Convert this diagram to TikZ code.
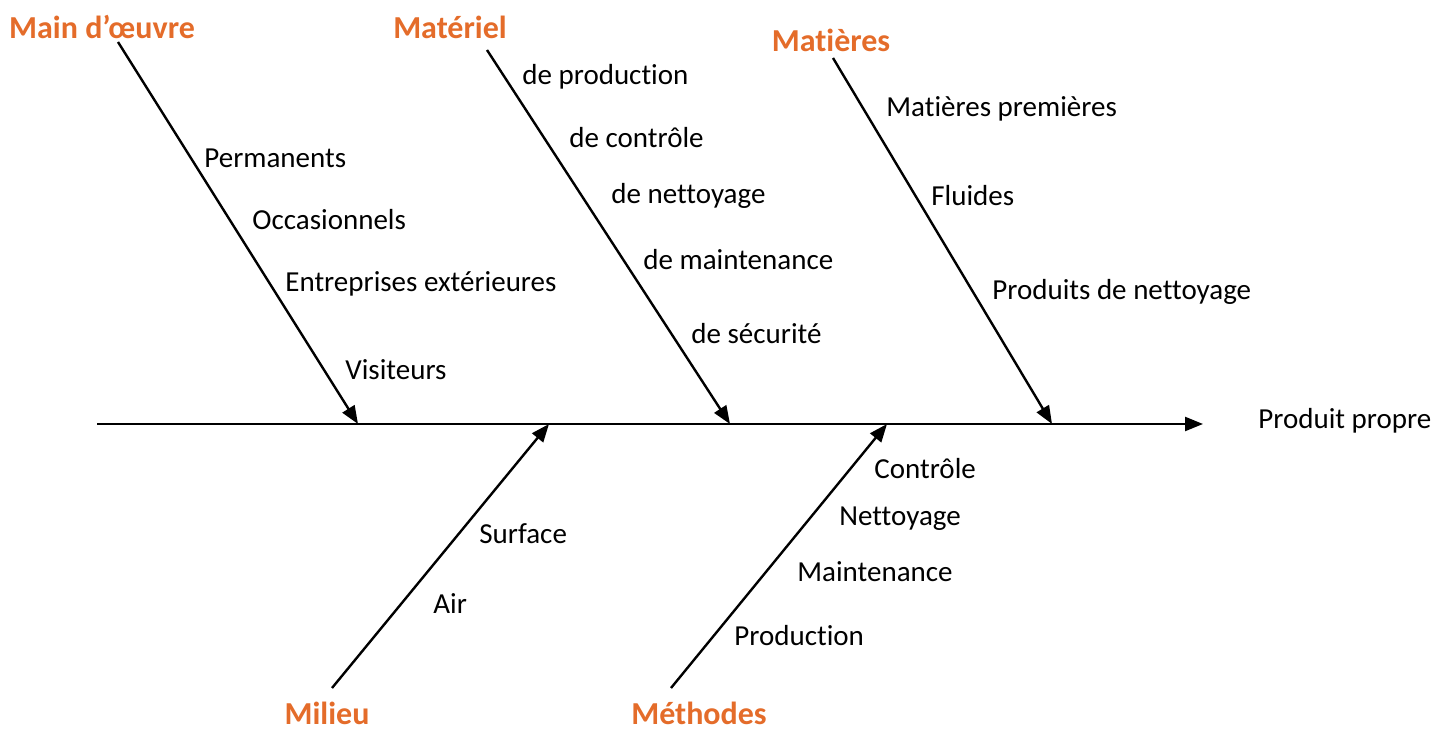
\documentclass[tikz,border=0pt]{standalone}
\usepackage{fontspec}
\setmainfont{Carlito}[RawFeature={-liga;-clig;-dlig;-calt}]
\usetikzlibrary{arrows.meta}
\definecolor{fishorange}{RGB}{228,108,42}

\begin{document}
\begin{tikzpicture}[x=0.5pt,y=-0.5pt,
    bone/.style={line width=1.2pt,-{Triangle[length=9pt,width=7pt]}},
    head/.style={text=fishorange,inner sep=0pt,font=\fontsize{16}{18}\selectfont\bfseries},
    cause/.style={anchor=west,inner sep=0pt,font=\fontsize{14.5}{17}\selectfont}]
    \useasboundingbox (0,0) rectangle (1451,731);

    % Spine
    \coordinate (tail) at (97,424);
    \coordinate (head) at (1203,424);
    \draw[bone] (tail) -- (head);
    \node[cause] (effect) at (1258,421) {Produit propre};

    % Category headings
    \node[head] (main) at (102,27) {Main d’œuvre};
    \node[head] (materiel) at (450,27) {Matériel};
    \node[head] (matieres) at (831,40) {Matières};
    \node[head] (milieu) at (327,713) {Milieu};
    \node[head] (methodes) at (699,713) {Méthodes};

    % Bones: start under/over heading, end on spine
    \coordinate (main-s) at (118,42);     \coordinate (main-e) at (358,424);
    \coordinate (materiel-s) at (487,50); \coordinate (materiel-e) at (730,424);
    \coordinate (matieres-s) at (833,58); \coordinate (matieres-e) at (1052,424);
    \coordinate (milieu-s) at (332,688);  \coordinate (milieu-e) at (549,424);
    \coordinate (methodes-s) at (671,688); \coordinate (methodes-e) at (887,424);
    \foreach \b in {main,materiel,matieres,milieu,methodes} {
        \draw[bone] (\b-s) -- (\b-e);
    }

    % Causes
    \foreach \x/\y/\t [count=\i] in {204/158/Permanents, 252/220/Occasionnels,
        285/284/Entreprises extérieures, 345/370/Visiteurs,
        522/77/de production, 569/138/de contrôle, 611/196/de nettoyage,
        643/260/de maintenance, 691/334/de sécurité,
        886/109/Matières premières, 931/196/Fluides, 992/292/Produits de nettoyage,
        479/534/Surface, 433/604/Air,
        874/469/Contrôle, 839/519/Nettoyage, 797/572/Maintenance, 734/636/Production} {
        \node[cause] (c\i) at (\x,\y) {\t};
    }
\end{tikzpicture}
\end{document}
